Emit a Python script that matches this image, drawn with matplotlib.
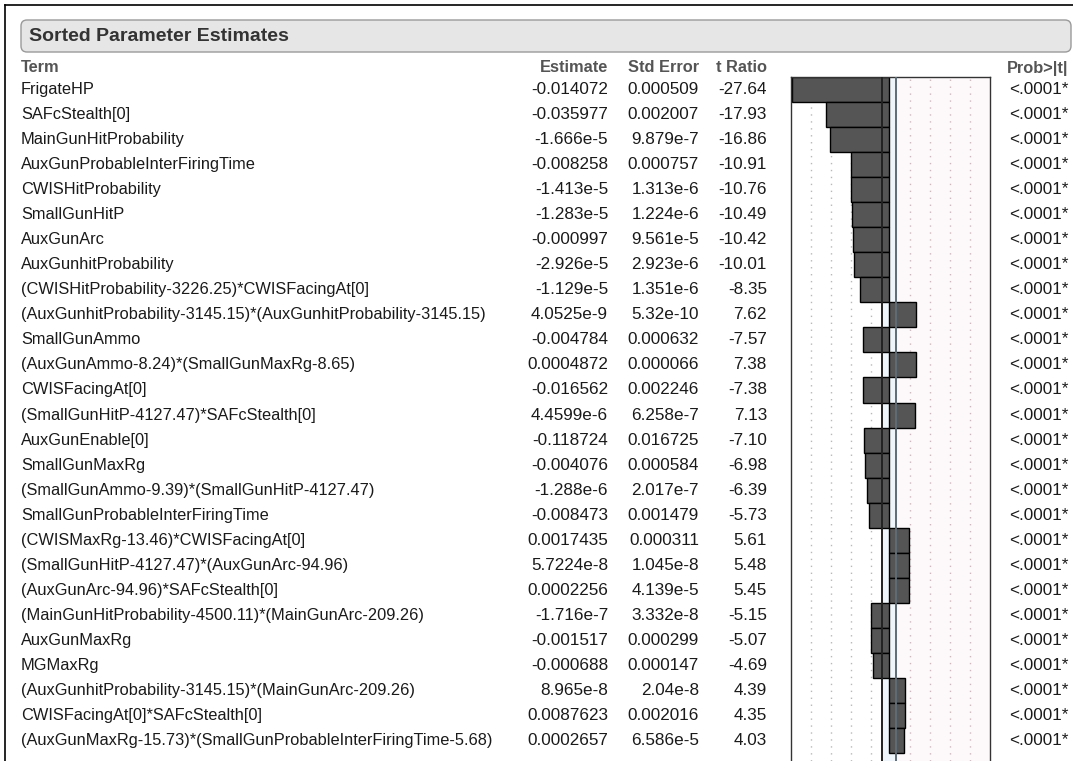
import matplotlib
matplotlib.use("Agg")
import matplotlib.pyplot as plt
import numpy as np
from matplotlib.patches import FancyBboxPatch

terms = [
    "FrigateHP",
    "SAFcStealth[0]",
    "MainGunHitProbability",
    "AuxGunProbableInterFiringTime",
    "CWISHitProbability",
    "SmallGunHitP",
    "AuxGunArc",
    "AuxGunhitProbability",
    "(CWISHitProbability-3226.25)*CWISFacingAt[0]",
    "(AuxGunhitProbability-3145.15)*(AuxGunhitProbability-3145.15)",
    "SmallGunAmmo",
    "(AuxGunAmmo-8.24)*(SmallGunMaxRg-8.65)",
    "CWISFacingAt[0]",
    "(SmallGunHitP-4127.47)*SAFcStealth[0]",
    "AuxGunEnable[0]",
    "SmallGunMaxRg",
    "(SmallGunAmmo-9.39)*(SmallGunHitP-4127.47)",
    "SmallGunProbableInterFiringTime",
    "(CWISMaxRg-13.46)*CWISFacingAt[0]",
    "(SmallGunHitP-4127.47)*(AuxGunArc-94.96)",
    "(AuxGunArc-94.96)*SAFcStealth[0]",
    "(MainGunHitProbability-4500.11)*(MainGunArc-209.26)",
    "AuxGunMaxRg",
    "MGMaxRg",
    "(AuxGunhitProbability-3145.15)*(MainGunArc-209.26)",
    "CWISFacingAt[0]*SAFcStealth[0]",
    "(AuxGunMaxRg-15.73)*(SmallGunProbableInterFiringTime-5.68)",
]
estimates = [
    "-0.014072", "-0.035977", "-1.666e-5", "-0.008258", "-1.413e-5",
    "-1.283e-5", "-0.000997", "-2.926e-5", "-1.129e-5", "4.0525e-9",
    "-0.004784", "0.0004872", "-0.016562", "4.4599e-6", "-0.118724",
    "-0.004076", "-1.288e-6", "-0.008473", "0.0017435", "5.7224e-8",
    "0.0002256", "-1.716e-7", "-0.001517", "-0.000688", "8.965e-8",
    "0.0087623", "0.0002657",
]
std_errors = [
    "0.000509", "0.002007", "9.879e-7", "0.000757", "1.313e-6",
    "1.224e-6", "9.561e-5", "2.923e-6", "1.351e-6", "5.32e-10",
    "0.000632", "0.000066", "0.002246", "6.258e-7", "0.016725",
    "0.000584", "2.017e-7", "0.001479", "0.000311", "1.045e-8",
    "4.139e-5", "3.332e-8", "0.000299", "0.000147", "2.04e-8",
    "0.002016", "6.586e-5",
]
t_ratios = [
    -27.64, -17.93, -16.86, -10.91, -10.76, -10.49, -10.42, -10.01, -8.35,
    7.62, -7.57, 7.38, -7.38, 7.13, -7.10, -6.98, -6.39, -5.73, 5.61,
    5.48, 5.45, -5.15, -5.07, -4.69, 4.39, 4.35, 4.03,
]
probs = ["<.0001*"] * len(terms)

W, H = 1073, 761
fig = plt.figure(figsize=(W / 100, H / 100), dpi=100)
plt.rcParams["font.family"] = ["Liberation Sans", "DejaVu Sans"]

# full-figure pixel canvas for the table text and frames
bg = fig.add_axes([0, 0, 1, 1])
bg.set_xlim(0, W)
bg.set_ylim(H, 0)
bg.axis("off")

# outer frame (only top and left are visible in the crop)
bg.plot([5, W], [5, 5], color="black", lw=1.2)
bg.plot([5, 5], [5, H], color="black", lw=1.2)

# title bar
bg.add_patch(FancyBboxPatch((21, 20), 1050, 32, boxstyle="round,pad=0,rounding_size=6",
                            fc="#e6e6e6", ec="#9a9a9a", lw=1))
bg.text(29, 36.5, "Sorted Parameter Estimates", fontsize=14, fontweight="bold",
        color="#333333", va="center", ha="left")

# column positions (right edges of the number columns)
x_term, x_est, x_se, x_t, x_p = 21, 608, 699, 767, 1068

hdr = dict(fontsize=11.8, fontweight="bold", color="#555555", va="center")
hy = 68
bg.text(x_term, hy, "Term", ha="left", **hdr)
bg.text(x_est, hy, "Estimate", ha="right", **hdr)
bg.text(x_se, hy, "Std Error", ha="right", **hdr)
bg.text(x_t, hy, "t Ratio", ha="right", **hdr)
bg.text(x_p, hy, "Prob>|t|", ha="right", **hdr)

row0, pitch = 89.5, 25.04
cell = dict(color="#1a1a1a", va="center")
for i in range(len(terms)):
    y = row0 + i * pitch
    bg.text(x_term, y, terms[i], ha="left", fontsize=11.8, **cell)
    bg.text(x_est, y, estimates[i], ha="right", fontsize=12.3, **cell)
    bg.text(x_se, y, std_errors[i], ha="right", fontsize=12.3, **cell)
    bg.text(x_t, y, f"{t_ratios[i]:.2f}", ha="right", fontsize=12.3, **cell)
    bg.text(x_p, y, probs[i], ha="right", fontsize=12.3, **cell)

# bar chart of t ratios
left, right, top = 791, 990, 77
ax = fig.add_axes([left / W, 0, (right - left) / W, (H - top) / H])
n_vis = (H - top) / pitch
xlo, xhi = -27.8, 28.4
ax.set_xlim(xlo, xhi)
ax.set_ylim(-0.5 + n_vis, -0.5)
ax.axvspan(0, xhi, color="#fdf9fa", zorder=0)
ax.axvspan(-1.97, 1.97, color="#eef6fb", zorder=0.5)
for xv in np.linspace(xlo, xhi, 11)[1:-1]:
    if abs(xv) < 3:
        continue
    ax.axvline(xv, color="#b8b8b8" if xv < 0 else "#cdb9bd", lw=1,
               ls=(0, (1, 4)), zorder=1)
ax.barh(np.arange(len(terms)), t_ratios, height=1.0, color="#555555",
        edgecolor="black", lw=1, zorder=2)
ax.axvline(-1.97, color="#222222", lw=1.4, zorder=3)
ax.axvline(1.97, color="#5f6b75", lw=1.4, zorder=3)
ax.set_xticks([])
ax.set_yticks([])
ax.spines["bottom"].set_visible(False)
for s in ("left", "right", "top"):
    ax.spines[s].set_color("#333333")
    ax.spines[s].set_linewidth(1)

fig.savefig("out.png", dpi=100)
